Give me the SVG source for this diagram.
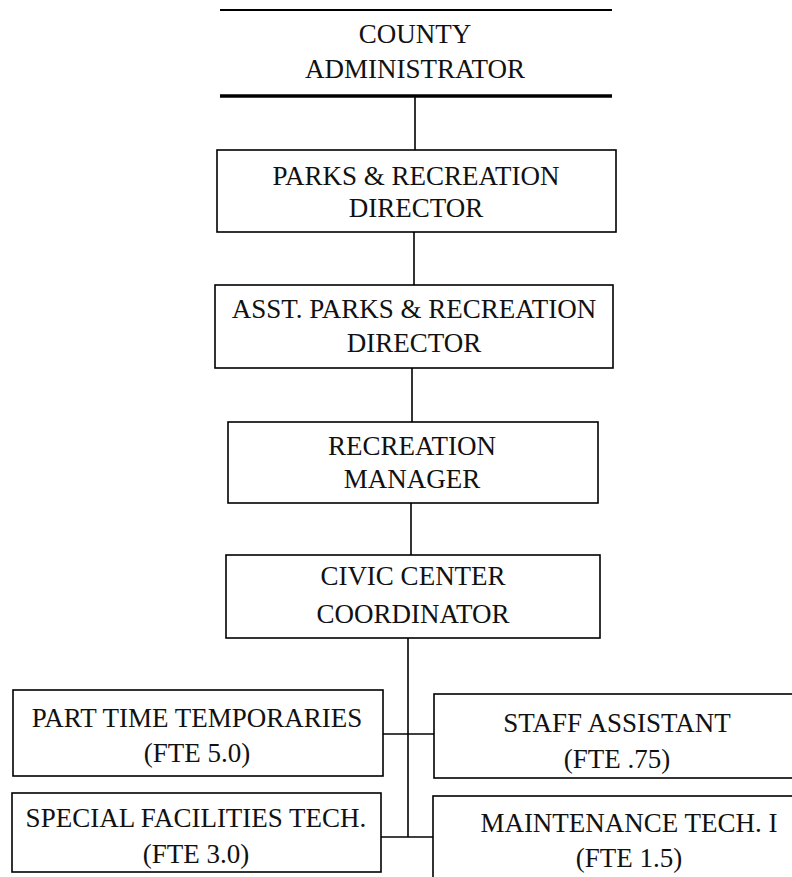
<svg xmlns="http://www.w3.org/2000/svg" width="792" height="877" viewBox="0 0 792 877">
  <style>
    .box { fill: none; stroke: #000; stroke-width: 1.6; }
    .rule { stroke: #000; fill: none; }
    .wire { stroke: #000; stroke-width: 1.6; fill: none; }
    text { font-family: "Liberation Serif", "Times New Roman", serif; font-size: 27px; fill: #111; text-anchor: middle; }
  </style>
  <rect width="792" height="877" fill="#fff"/>

  <!-- reporting lines -->
  <g id="connectors">
    <line class="wire" x1="415" y1="97" x2="415" y2="150"/>
    <line class="wire" x1="414" y1="232" x2="414" y2="285"/>
    <line class="wire" x1="412" y1="368" x2="412" y2="422"/>
    <line class="wire" x1="411" y1="503" x2="411" y2="555"/>
    <line class="wire" x1="408" y1="638" x2="408" y2="837"/>
    <line class="wire" x1="383" y1="734" x2="434" y2="734"/>
    <line class="wire" x1="381" y1="837" x2="433" y2="837"/>
  </g>

  <g id="county-administrator">
    <line class="rule" x1="220" y1="10" x2="612" y2="10" stroke-width="2"/>
    <line class="rule" x1="220" y1="96" x2="612" y2="96" stroke-width="3.5"/>
    <text x="415" y="43">COUNTY</text>
    <text x="415" y="78">ADMINISTRATOR</text>
  </g>

  <g id="parks-recreation-director">
    <rect class="box" x="217" y="150" width="399" height="82"/>
    <text x="416" y="185">PARKS &amp; RECREATION</text>
    <text x="416" y="217">DIRECTOR</text>
  </g>

  <g id="asst-parks-recreation-director">
    <rect class="box" x="215" y="285" width="398" height="83"/>
    <text x="414" y="318">ASST. PARKS &amp; RECREATION</text>
    <text x="414" y="352">DIRECTOR</text>
  </g>

  <g id="recreation-manager">
    <rect class="box" x="228" y="422" width="370" height="81"/>
    <text x="412" y="455">RECREATION</text>
    <text x="412" y="488">MANAGER</text>
  </g>

  <g id="civic-center-coordinator">
    <rect class="box" x="226" y="555" width="374" height="83"/>
    <text x="413" y="585">CIVIC CENTER</text>
    <text x="413" y="623">COORDINATOR</text>
  </g>

  <g id="part-time-temporaries">
    <rect class="box" x="13" y="690" width="370" height="86"/>
    <text x="197" y="727">PART TIME TEMPORARIES</text>
    <text x="197" y="762">(FTE 5.0)</text>
  </g>

  <g id="staff-assistant">
    <rect class="box" x="434" y="694" width="370" height="84"/>
    <text x="617" y="732">STAFF ASSISTANT</text>
    <text x="617" y="768">(FTE .75)</text>
  </g>

  <g id="special-facilities-tech">
    <rect class="box" x="12" y="793" width="369" height="79"/>
    <text x="196" y="827">SPECIAL FACILITIES TECH.</text>
    <text x="196" y="863">(FTE 3.0)</text>
  </g>

  <g id="maintenance-tech">
    <rect class="box" x="433" y="796" width="370" height="100"/>
    <text x="629" y="832">MAINTENANCE TECH. I</text>
    <text x="629" y="867">(FTE 1.5)</text>
  </g>
</svg>
